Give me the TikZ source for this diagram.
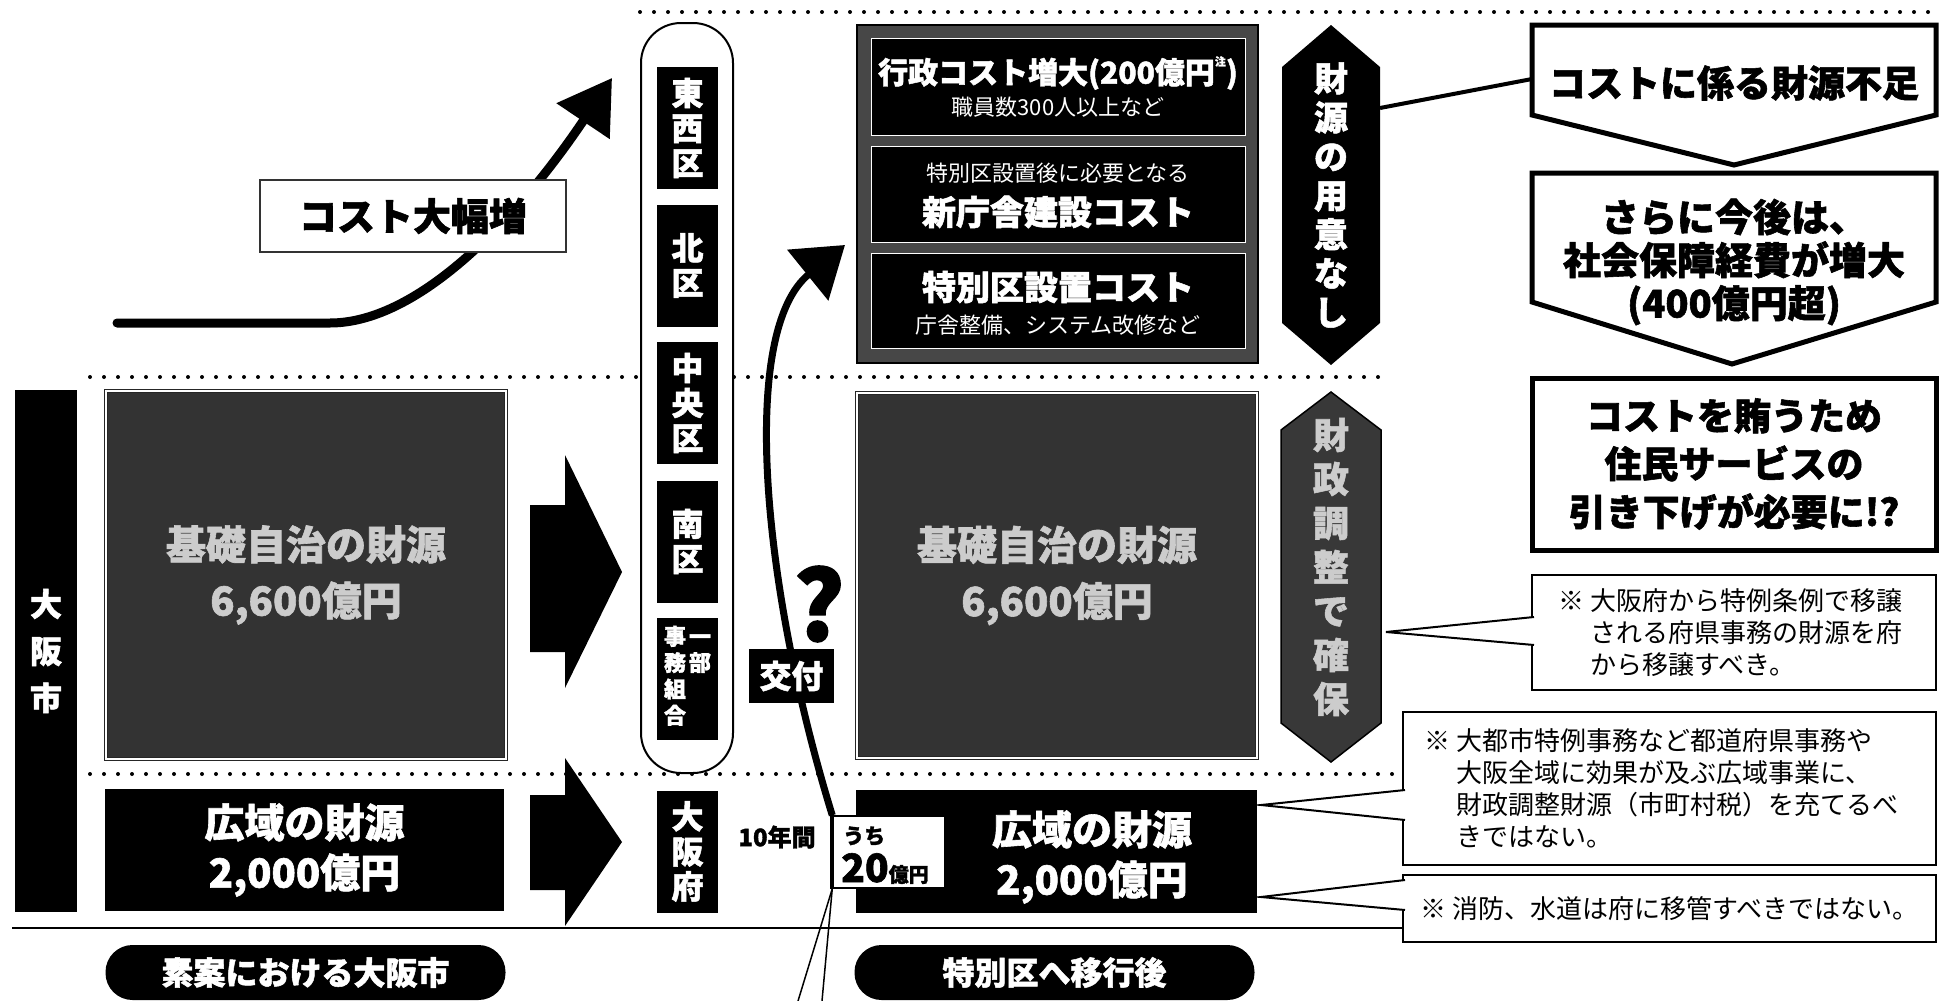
\documentclass[tikz,border=0pt]{standalone}
\usepackage{fontspec}
\setmainfont{Noto Sans CJK JP}[BoldFeatures={FakeBold=1.5}]
\usetikzlibrary{positioning,arrows.meta}
\newcommand{\jpsize}[2]{\fontsize{#1}{#2}\selectfont}

\begin{document}
\begin{tikzpicture}[x=1pt, y=-1pt, >=Triangle, every node/.style={inner sep=0pt}]
\tikzstyle{dots}=[line width=4pt, line cap=round, dash pattern=on 0pt off 14pt]
\tikzstyle{inv}=[fill=black, text=white, font=\bfseries]
\tikzstyle{graybox}=[fill=black!80, draw=black!85, line width=1pt, double=white!85, double distance=1.2pt, align=center, text=black!20, font=\bfseries\jpsize{40}{56}]
\tikzstyle{ward}=[fill=black, text=white, minimum width=61pt, minimum height=122pt, align=center, font=\bfseries\jpsize{32}{35}]
\tikzstyle{costbox}=[fill=black, draw=white!75, line width=1pt, minimum width=374pt]
\tikzstyle{costhead}=[text=white, font=\bfseries\jpsize{34}{36}]
\tikzstyle{costsub}=[text=white, font=\jpsize{22}{24}]
\tikzstyle{note}=[draw, line width=2pt, fill=white, align=left, font=\jpsize{26}{32}]
\tikzstyle{pill}=[fill=black, text=white, rounded corners=27pt, minimum width=400pt, minimum height=55pt, font=\bfseries\jpsize{32}{32}]
\useasboundingbox (0,0) rectangle (1941,1001);

% Dotted separators
\draw[dots] (640,12) -- (1941,12);
\draw[dots] (90,377) -- (1385,377);
\draw[dots] (90,774) -- (1400,774);
\draw[line width=2.5pt] (12,928) -- (1403,928);

% Present city
\node[inv, minimum width=62pt, minimum height=522pt, align=center, font=\bfseries\jpsize{32}{47}] (shi) at (46,651) {大\\阪\\市};
\node[graybox, minimum width=400pt, minimum height=368pt] (kiso1) at (306,575) {基礎自治の財源\\6,600億円};
\node[inv, minimum width=399pt, minimum height=122pt, align=center, font=\bfseries\jpsize{40}{50}] (kouiki1) at (304.5,850) {広域の財源\\2,000億円};

% Fat arrows
\fill (530,505) -- (565,505) -- (565,455) -- (622,572) -- (565,688) -- (565,652) -- (530,652) -- cycle;
\fill (530,795) -- (565,795) -- (565,758) -- (622,842) -- (565,926) -- (565,890) -- (530,890) -- cycle;

% Wards
\node[draw, fill=white, line width=2pt, rounded corners=40pt, minimum width=92pt, minimum height=750pt] (wards) at (687,398) {};
\node[ward] (tozai) at (687.5,128) {東\\西\\区};
\node[ward] (kita) at (687.5,265.5) {北\\区};
\node[ward] (chuo) at (687.5,403) {中\\央\\区};
\node[ward] (minami) at (687.5,541.5) {南\\区};
\node[ward, font=\bfseries\jpsize{22}{25}] (kumiai) at (687.5,678.5) {\begin{tabular}[t]{@{}c@{}}事\\務\\組\\合\end{tabular}\hspace{3pt}\begin{tabular}[t]{@{}c@{}}一\\部\end{tabular}};
\node[ward] (fu) at (687.5,851.5) {大\\阪\\府};

% Cost rise
\coordinate (rise-start) at (117,323);
\coordinate (rise-end) at (612,78);
\draw[line width=9pt, line cap=round, -{Triangle[length=52pt,width=62pt]}] (rise-start) -- (330,323) .. controls (420,323) and (520,215) .. (rise-end);
\node[draw=black!80, line width=2pt, fill=white, minimum width=306pt, minimum height=72pt, font=\bfseries\jpsize{38}{40}] (zofuku) at (413,216) {コスト大幅増};

% Cost panel
\node[fill=black!72, draw=black, line width=1.5pt, minimum width=401pt, minimum height=338pt] (panel) at (1057.5,194) {};
\node[costbox, minimum height=97pt] (gyosei) at (1058,86.5) {};
\node[costbox, minimum height=96pt] (chosha) at (1058,194) {};
\node[costbox, minimum height=95pt] (setchi) at (1058,300.5) {};
\node[costhead, font=\bfseries\jpsize{30}{32}] (gyosei-t) at (1058,73) {行政コスト増大(200億円\raisebox{0.6em}{\jpsize{11}{11}注})};
\node[costsub] (gyosei-s) at (1058,107) {職員数300人以上など};
\node[costsub] (chosha-s) at (1058,173) {特別区設置後に必要となる};
\node[costhead] (chosha-t) at (1058,212) {新庁舎建設コスト};
\node[costhead] (setchi-t) at (1058,287) {特別区設置コスト};
\node[costsub] (setchi-s) at (1058,325) {庁舎整備、システム改修など};

% Hexagons
\fill (1331,25) -- (1380,67) -- (1380,323) -- (1331,365) -- (1282,323) -- (1282,67) -- cycle;
\node[text=white, align=center, font=\bfseries\jpsize{34}{39}] (nashi) at (1331,195) {財\\源\\の\\用\\意\\な\\し};
\draw[fill=black!78, line width=1.5pt] (1331,392) -- (1381,430) -- (1381,723) -- (1331,762) -- (1281,723) -- (1281,430) -- cycle;
\node[text=black!20, align=center, font=\bfseries\jpsize{36}{44}] (kakuho) at (1331,567) {財\\政\\調\\整\\で\\確\\保};

% After transition
\node[graybox, minimum width=400pt, minimum height=365pt] (kiso2) at (1057,575.5) {基礎自治の財源\\6,600億円};
\node[inv, minimum width=401pt, minimum height=123pt] (kouiki2) at (1056.5,851.5) {};
\node[text=white, align=center, font=\bfseries\jpsize{40}{50}] (kouiki2-t) at (1092,857) {広域の財源\\2,000億円};
\node[draw, fill=white, line width=1.5pt, minimum width=112pt, minimum height=72pt] (uchi) at (889,852) {};
\draw[line width=4pt] (uchi.north west) -- (uchi.south west);
\node[anchor=west, font=\bfseries\jpsize{21}{21}] (uchi-t) at (843,836) {うち};
\node[anchor=base west, font=\bfseries\jpsize{39}{39}] (uchi-n) at (841,882) {20{\jpsize{20}{20}億円}};
\node[font=\bfseries\jpsize{24}{24}] (juunen) at (777,837) {10年間};

% Grant curve
\coordinate (kofu-end) at (845,245);
\draw[line width=7pt, -{Triangle[length=48pt,width=64pt]}] (uchi.north west) .. controls (760,580) and (740,330) .. (kofu-end);
\node[font=\bfseries\jpsize{96}{96}] (hatena) at (819,604) {?};
\node[inv, minimum width=85pt, minimum height=54pt, font=\bfseries\jpsize{32}{32}] (kofu) at (791.5,676) {交付};
\coordinate (off1) at (798,1001);
\coordinate (off2) at (822,1001);
\draw[line width=1.5pt] (uchi.south west) -- (off1);
\draw[line width=1.5pt] (uchi.south west) -- (off2);

% Right column
\coordinate (nashi-r) at (1380,108);
\coordinate (fusoku-l) at (1532,79);
\draw[line width=4pt] (nashi-r) -- (fusoku-l);
\draw[line width=5pt] (1532,25) -- (1936,25) -- (1936,115) -- (1734,165) -- (1532,115) -- cycle;
\node[font=\bfseries\jpsize{37}{40}] (fusoku) at (1734,83) {コストに係る財源不足};
\draw[line width=5pt] (1532,173) -- (1936,173) -- (1936,302) -- (1732,364) -- (1532,302) -- cycle;
\node[align=center, font=\bfseries\jpsize{38}{43}] (kongo) at (1734,262) {さらに今後は、\\社会保障経費が増大\\(400億円超)};
\node[draw, line width=5pt, minimum width=404pt, minimum height=172pt, align=center, font=\bfseries\jpsize{37}{48}] (makanau) at (1734,464) {コストを賄うため\\住民サービスの\\引き下げが必要に!?};

% Notes
\node[note, text width=352pt, minimum height=115pt, inner xsep=26pt] (note1) at (1734,632.5) {※\hspace{0.25em}大阪府から特例条例で移譲\\\hspace*{1.25em}される府県事務の財源を府\\\hspace*{1.25em}から移譲すべき。};
\node[note, text width=491pt, minimum height=153pt, inner xsep=21pt] (note2) at (1669.5,788.5) {※\hspace{0.25em}大都市特例事務など都道府県事務や\\\hspace*{1.25em}大阪全域に効果が及ぶ広域事業に、\\\hspace*{1.25em}財政調整財源（市町村税）を充てるべ\\\hspace*{1.25em}きではない。};
\node[note, minimum width=533pt, minimum height=67pt] (note3) at (1669.5,908.5) {※\hspace{0.25em}消防、水道は府に移管すべきではない。};
\draw[line width=2pt, fill=white] (1534,617) -- (1386,632) -- (1534,645);
\draw[line width=2pt, fill=white] (1405,790) -- (1261,805) -- (1405,820);
\draw[line width=2pt, fill=white] (1405,880) -- (1261,897) -- (1405,910);

% Captions
\node[pill] (soan) at (305.5,972.5) {素案における大阪市};
\node[pill] (iko) at (1054.5,972.5) {特別区へ移行後};
\end{tikzpicture}
\end{document}
